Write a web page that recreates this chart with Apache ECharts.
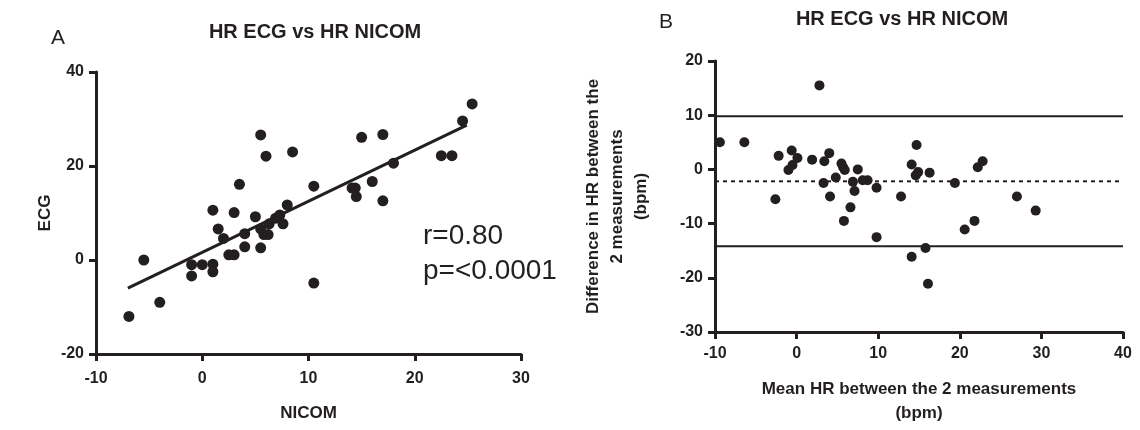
<!DOCTYPE html>
<html>
<head>
<meta charset="utf-8">
<script src="https://cdn.jsdelivr.net/npm/echarts@6/dist/echarts.min.js"></script>
<style>
html,body{margin:0;padding:0;background:#fff;}
#chart{width:1140px;height:430px;}
</style>
</head>
<body>
<div id="chart"></div>
<script>
// panel A: NICOM (x) vs ECG (y)
var nicomEcg = [
  [-6.9,-12.0],[-4.0,-9.0],[-5.5,0.0],[-1.0,-3.4],[-1.0,-1.0],[0.0,-1.0],[1.0,-0.9],[1.0,-2.5],
  [1.0,10.6],[1.5,6.6],[2.0,4.6],[3.0,10.1],[3.5,16.1],[2.5,1.1],[3.0,1.1],[4.0,5.6],[4.0,2.8],
  [5.0,9.2],[5.5,2.6],[5.5,6.6],[5.8,5.4],[6.2,5.4],[6.3,7.7],[6.9,8.9],[7.3,9.6],[7.6,7.7],
  [8.0,11.7],[5.5,26.6],[6.0,22.1],[8.5,23.0],[10.5,15.7],[10.5,-4.9],[14.1,15.3],[14.4,15.3],
  [14.5,13.5],[15.0,26.1],[16.0,16.7],[17.0,26.7],[17.0,12.6],[18.0,20.6],[22.5,22.2],[23.5,22.2],
  [24.5,29.6],[25.4,33.2]
];
var fitLine = [[-7.0,-6.0],[24.9,28.7]];

// panel B: mean HR (x) vs difference (y)
var meanDiff = [
  [-9.4,5.0],[-6.4,5.0],[-2.2,2.5],[-2.6,-5.5],[-0.6,3.5],[0.1,2.1],[-0.5,0.8],[-1.0,-0.1],
  [2.8,15.5],[1.9,1.8],[3.4,1.5],[4.0,3.0],[3.3,-2.5],[4.1,-5.0],[5.5,1.1],[5.7,0.4],[5.9,-0.1],
  [4.8,-1.5],[6.6,-7.0],[5.8,-9.5],[7.5,0.0],[6.9,-2.3],[7.1,-4.0],[8.1,-2.0],[8.7,-2.0],
  [9.8,-3.4],[9.8,-12.5],[12.8,-5.0],[14.1,0.9],[14.7,4.5],[14.9,-0.5],[14.6,-1.1],[16.3,-0.6],
  [19.4,-2.5],[22.8,1.5],[22.2,0.4],[27.0,-5.0],[29.3,-7.6],[21.8,-9.5],[20.6,-11.1],
  [14.1,-16.1],[15.8,-14.5],[16.1,-21.1]
];
var biasMean = -2.2;
var limitUpper = 9.8;
var limitLower = -14.2;
var xRangeB = [-10, 40];

var ink = '#231f20';
var font = 'Liberation Sans, Arial, sans-serif';

function axisStyle(o, labelMargin){
  o.axisLine = {show:true, onZero:false, lineStyle:{color:ink, width:3}};
  o.axisTick = {show:true, inside:false, length:7, lineStyle:{color:ink, width:3}};
  o.axisLabel = {color:ink, fontSize:16, fontWeight:'bold', fontFamily:font, margin:labelMargin || 12};
  o.splitLine = {show:false};
  o.nameTextStyle = {color:ink, fontSize:17, fontWeight:'bold', fontFamily:font, lineHeight:24};
  return o;
}

var myChart = echarts.init(document.getElementById('chart'));

var option = {
  backgroundColor:'#fff',
  animation:false,
  title:[
    {text:'HR ECG vs HR NICOM', left:310, top:17, textAlign:'center',
     textStyle:{color:ink, fontSize:20, fontWeight:'bold', fontFamily:font}},
    {text:'A', left:46, top:23, textStyle:{color:ink, fontSize:21, fontWeight:'normal', fontFamily:font}},
    {text:'HR ECG vs HR NICOM', left:897, top:4, textAlign:'center',
     textStyle:{color:ink, fontSize:20, fontWeight:'bold', fontFamily:font}},
    {text:'B', left:654, top:7, textStyle:{color:ink, fontSize:21, fontWeight:'normal', fontFamily:font}},
    {text:'r=0.80\np=<0.0001', left:418, top:214,
     textStyle:{color:ink, fontSize:28, fontWeight:'normal', fontFamily:font, lineHeight:35}}
  ],
  grid:[
    {left:96, top:72, width:425, height:282, outerBoundsMode:'none'},
    {left:715, top:61, width:408, height:271, outerBoundsMode:'none'}
  ],
  xAxis:[
    axisStyle({type:'value', gridIndex:0, min:-10, max:30, interval:10,
      name:'NICOM', nameLocation:'middle', nameGap:47}, 17),
    axisStyle({type:'value', gridIndex:1, min:xRangeB[0], max:xRangeB[1], interval:10,
      name:'Mean HR between the 2 measurements\n(bpm)', nameLocation:'middle', nameGap:45}, 14)
  ],
  yAxis:[
    axisStyle({type:'value', gridIndex:0, min:-20, max:40, interval:20,
      name:'ECG', nameLocation:'middle', nameGap:38, nameRotate:90}),
    axisStyle({type:'value', gridIndex:1, min:-30, max:20, interval:10,
      name:'Difference in HR between the\n2 measurements\n(bpm)', nameLocation:'middle', nameGap:62, nameRotate:90})
  ],
  series:[
    {type:'scatter', xAxisIndex:0, yAxisIndex:0, data:nicomEcg, symbolSize:11,
     itemStyle:{color:ink, opacity:1}, z:3},
    {type:'line', xAxisIndex:0, yAxisIndex:0, data:fitLine, symbol:'none',
     lineStyle:{color:ink, width:3}, z:2},
    {type:'scatter', xAxisIndex:1, yAxisIndex:1, data:meanDiff, symbolSize:10,
     itemStyle:{color:ink, opacity:1}, z:3, clip:false},
    {type:'line', xAxisIndex:1, yAxisIndex:1, symbol:'none',
     data:[[xRangeB[0],limitUpper],[xRangeB[1],limitUpper]], lineStyle:{color:ink, width:2}},
    {type:'line', xAxisIndex:1, yAxisIndex:1, symbol:'none',
     data:[[xRangeB[0],limitLower],[xRangeB[1],limitLower]], lineStyle:{color:ink, width:2}},
    {type:'line', xAxisIndex:1, yAxisIndex:1, symbol:'none',
     data:[[xRangeB[0],biasMean],[xRangeB[1],biasMean]], lineStyle:{color:ink, width:2, type:[4,4]}}
  ]
};

myChart.setOption(option);
</script>
</body>
</html>
